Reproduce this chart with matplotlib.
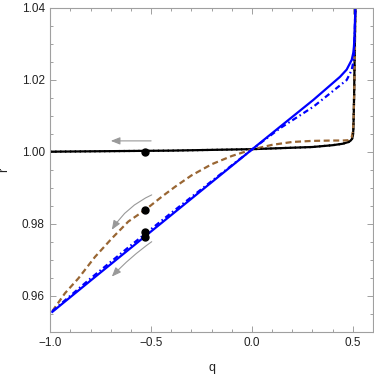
import numpy as np
import matplotlib
matplotlib.use('Agg')
import matplotlib.pyplot as plt
from matplotlib.ticker import MultipleLocator

plt.rcParams['font.family'] = ['Liberation Sans', 'DejaVu Sans']

# black solid (and dotted) curve
q_black = [-1.0, -0.8, -0.6, -0.4, -0.2, 0.0, 0.15, 0.3, 0.4, 0.45, 0.48, 0.49,
           0.497, 0.501, 0.503, 0.505, 0.507, 0.509, 0.511, 0.513]
r_black = [1.0000, 1.0001, 1.0002, 1.0003, 1.0005, 1.0007, 1.0010, 1.0013, 1.0018, 1.0022,
           1.0027, 1.0031, 1.0036, 1.0045, 1.0060, 1.0100, 1.0160, 1.0240, 1.0320, 1.0400]

# brown dashed curve
q_brown = [-0.99, -0.927, -0.861, -0.778, -0.695, -0.613, -0.53, -0.447, -0.38, -0.3, -0.2,
           -0.1, 0.0, 0.1, 0.2, 0.3, 0.4, 0.45, 0.48, 0.495, 0.502, 0.505, 0.508, 0.511, 0.513]
r_brown = [0.9557, 0.9607, 0.9648, 0.9708, 0.9759, 0.9806, 0.9838, 0.9875, 0.9903, 0.9934,
           0.9965, 0.9988, 1.0006, 1.0019, 1.0027, 1.0030, 1.0031, 1.0031, 1.0032, 1.0040,
           1.0060, 1.0100, 1.0180, 1.0280, 1.0400]

# blue solid curve
q_blue = [-0.99, -0.8, -0.6, -0.4, -0.2, 0.0, 0.139, 0.305, 0.437, 0.47, 0.495, 0.503,
          0.506, 0.509, 0.511, 0.513]
r_blue = [0.9555, 0.9642, 0.9733, 0.9824, 0.9915, 1.0006, 1.0069, 1.0144, 1.0208, 1.0228,
          1.0255, 1.0275, 1.0292, 1.0320, 1.0360, 1.0400]

# blue dot-dashed curve
q_bluedd = [-0.99, -0.8, -0.6, -0.4, -0.2, 0.0, 0.139, 0.305, 0.47, 0.495, 0.503, 0.507,
            0.510, 0.513]
r_bluedd = [0.9557, 0.9648, 0.9740, 0.9830, 0.9918, 1.0006, 1.0065, 1.0125, 1.0199, 1.0227,
            1.0250, 1.0280, 1.0330, 1.0400]

# markers
q_pts = [-0.53, -0.53, -0.53, -0.53]
r_pts = [1.0000, 0.9838, 0.9776, 0.9762]

# arrows: (start q, start r, end q, end r, curvature)
arrows = [(-0.5, 1.003, -0.7, 1.003, 0.0),
          (-0.497, 0.988, -0.695, 0.9783, 0.15),
          (-0.497, 0.975, -0.695, 0.9653, 0.05)]

fig = plt.figure(figsize=(3.74, 3.75), dpi=100)
ax = fig.add_axes([0.1345, 0.1155, 0.8625, 0.864])

brown = '#996633'
ax.plot(q_black, r_black, color='black', lw=1.6, solid_capstyle='butt')
ax.plot(q_brown, r_brown, color=brown, lw=1.6, ls=(0, (2.7, 1.6)))
ax.plot(q_black, r_black, color='black', lw=1.6, ls=(0, (0.6, 1.6)))
ax.plot(q_blue, r_blue, color='blue', lw=1.6)
ax.plot(q_bluedd, r_bluedd, color='blue', lw=1.6, ls=(0, (2.5, 1.4, 0.7, 1.4)))
ax.plot(q_pts, r_pts, 'o', color='black', ms=5)

for x0, y0, x1, y1, rad in arrows:
    ax.annotate('', xy=(x1, y1), xytext=(x0, y0),
                arrowprops=dict(arrowstyle='-|>,head_length=0.55,head_width=0.22',
                                color='#999999', lw=0.8, shrinkA=0, shrinkB=0,
                                connectionstyle='arc3,rad=%s' % rad))

ax.set_xlim(-1.0, 0.6)
ax.set_ylim(0.95, 1.04)
ax.xaxis.set_major_locator(MultipleLocator(0.5))
ax.xaxis.set_minor_locator(MultipleLocator(0.1))
ax.yaxis.set_major_locator(MultipleLocator(0.02))
ax.yaxis.set_minor_locator(MultipleLocator(0.005))
ax.xaxis.set_major_formatter(plt.FuncFormatter(lambda v, p: ('%.1f' % v).replace('-', '\u2212')))
ax.yaxis.set_major_formatter(plt.FuncFormatter(lambda v, p: '%.2f' % v))

for s in ax.spines.values():
    s.set_color('#a0a0a0')
    s.set_linewidth(0.8)
ax.tick_params(which='both', direction='in', top=True, right=True, color='#a0a0a0',
               labelsize=8.5, labelcolor='#222222', width=0.7)
ax.tick_params(which='major', length=4.5, pad=4)
ax.tick_params(which='minor', length=2.5)

ax.set_xlabel('q', fontsize=9, color='#222222', labelpad=9)
ax.set_ylabel('r', fontsize=9, color='#222222', labelpad=8)

fig.savefig('out.png', dpi=100)
